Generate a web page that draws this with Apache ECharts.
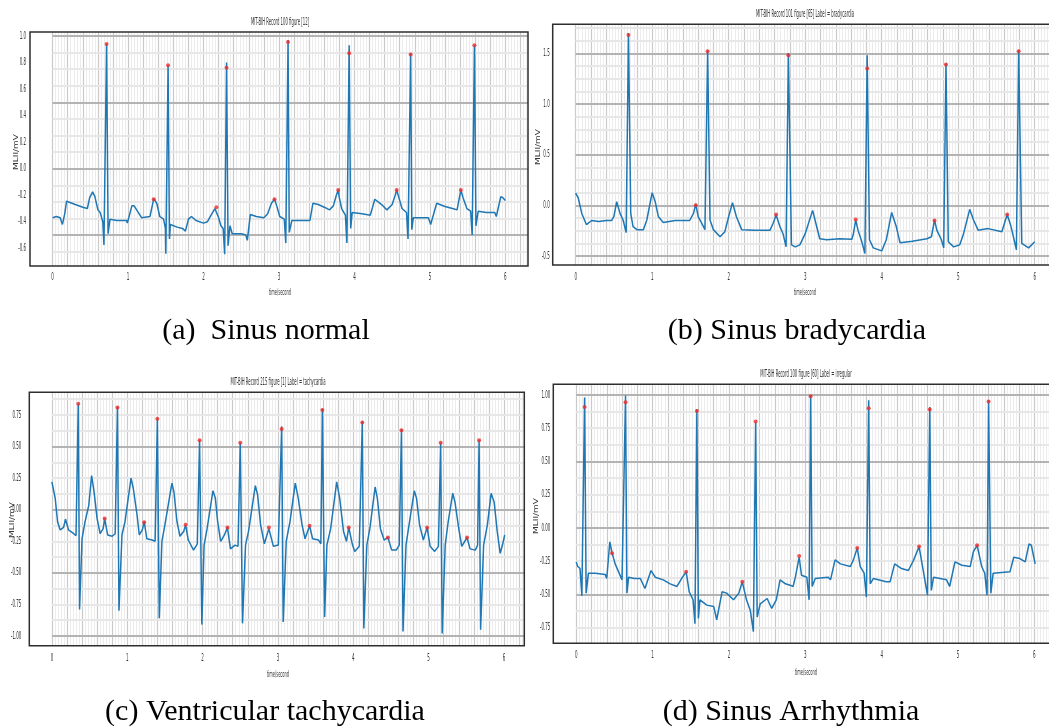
<!DOCTYPE html>
<html>
<head>
<meta charset="utf-8">
<script src="https://cdn.jsdelivr.net/npm/echarts@6/dist/echarts.min.js"></script>
<style>
  html, body { margin: 0; padding: 0; background: #fff; }
  #chart { width: 1049px; height: 728px; }
</style>
</head>
<body>
<div id="chart"></div>
<script>
// ---- data (time in s, amplitude in mV) ----
var xTicks = [0, 1, 2, 3, 4, 5, 6];

// (a) Sinus normal, record 100
var yTicksA = [-0.6, -0.4, -0.2, 0, 0.2, 0.4, 0.6, 0.8, 1.0];
var ecgA = [[0,-0.37],[0.05,-0.36],[0.1,-0.37],[0.13,-0.42],[0.16,-0.34],[0.185,-0.245],[0.2,-0.23],[0.3,-0.27],[0.4,-0.29],[0.46,-0.30],[0.49,-0.22],[0.53,-0.175],[0.56,-0.21],[0.6,-0.31],[0.63,-0.33],[0.665,-0.40],[0.68,-0.575],[0.715,0.94],[0.735,-0.49],[0.76,-0.38],[0.85,-0.39],[0.98,-0.39],[0.99,-0.41],[1.05,-0.28],[1.08,-0.28],[1.18,-0.37],[1.29,-0.36],[1.32,-0.28],[1.34,-0.225],[1.38,-0.26],[1.42,-0.36],[1.47,-0.38],[1.495,-0.45],[1.50,-0.64],[1.53,0.78],[1.548,-0.53],[1.56,-0.42],[1.65,-0.44],[1.72,-0.45],[1.76,-0.47],[1.8,-0.38],[1.84,-0.36],[1.9,-0.39],[2.0,-0.41],[2.05,-0.40],[2.1,-0.35],[2.15,-0.30],[2.17,-0.29],[2.2,-0.37],[2.23,-0.43],[2.26,-0.45],[2.28,-0.645],[2.305,0.80],[2.325,-0.58],[2.35,-0.43],[2.38,-0.49],[2.5,-0.49],[2.56,-0.50],[2.58,-0.54],[2.62,-0.345],[2.7,-0.36],[2.8,-0.37],[2.85,-0.34],[2.9,-0.26],[2.94,-0.23],[2.97,-0.28],[3.01,-0.36],[3.07,-0.38],[3.09,-0.56],[3.12,0.97],[3.136,-0.48],[3.17,-0.39],[3.3,-0.39],[3.41,-0.39],[3.45,-0.26],[3.52,-0.27],[3.6,-0.29],[3.67,-0.31],[3.72,-0.28],[3.76,-0.20],[3.785,-0.16],[3.8,-0.22],[3.83,-0.30],[3.88,-0.35],[3.90,-0.56],[3.93,0.93],[3.95,-0.45],[3.97,-0.33],[4.1,-0.34],[4.21,-0.35],[4.23,-0.36],[4.27,-0.23],[4.36,-0.27],[4.43,-0.31],[4.5,-0.27],[4.54,-0.20],[4.56,-0.16],[4.59,-0.22],[4.63,-0.30],[4.69,-0.33],[4.71,-0.53],[4.745,0.87],[4.76,-0.46],[4.78,-0.37],[4.9,-0.37],[4.98,-0.37],[5.01,-0.42],[5.09,-0.26],[5.2,-0.285],[5.3,-0.30],[5.36,-0.31],[5.39,-0.22],[5.41,-0.16],[5.44,-0.22],[5.49,-0.30],[5.54,-0.32],[5.56,-0.50],[5.59,0.93],[5.61,-0.43],[5.64,-0.32],[5.75,-0.33],[5.86,-0.33],[5.88,-0.36],[5.94,-0.21],[5.97,-0.22],[6.0,-0.24]];
var rPeaksA = [[0.715,0.94],[1.53,0.78],[2.305,0.76],[3.12,0.955],[3.93,0.87],[4.745,0.86],[5.59,0.93]];
var pPeaksA = [[1.34,-0.23],[2.17,-0.29],[2.94,-0.23],[3.785,-0.16],[4.56,-0.16],[5.41,-0.16]];

// (b) Sinus bradycardia, record 101
var yTicksB = [-0.5, 0, 0.5, 1.0, 1.5];
var ecgB = [[0,0.12],[0.035,0.07],[0.08,-0.08],[0.14,-0.19],[0.21,-0.15],[0.3,-0.16],[0.4,-0.15],[0.47,-0.15],[0.5,-0.11],[0.536,0.035],[0.58,-0.08],[0.62,-0.145],[0.66,-0.27],[0.69,1.70],[0.72,-0.08],[0.75,-0.21],[0.8,-0.24],[0.885,-0.24],[0.93,-0.145],[1.0,0.125],[1.04,0.035],[1.08,-0.11],[1.145,-0.17],[1.3,-0.15],[1.49,-0.15],[1.54,-0.08],[1.57,0.013],[1.60,-0.11],[1.65,-0.18],[1.69,-0.24],[1.725,1.53],[1.756,-0.145],[1.80,-0.24],[1.887,-0.31],[1.95,-0.26],[2.0,-0.11],[2.05,0.026],[2.10,-0.11],[2.17,-0.24],[2.35,-0.245],[2.54,-0.245],[2.58,-0.18],[2.62,-0.095],[2.67,-0.21],[2.71,-0.28],[2.75,-0.41],[2.78,1.50],[2.82,-0.39],[2.87,-0.41],[2.93,-0.39],[3.0,-0.28],[3.097,-0.05],[3.14,-0.18],[3.19,-0.33],[3.28,-0.34],[3.45,-0.33],[3.61,-0.335],[3.63,-0.28],[3.66,-0.145],[3.69,-0.245],[3.74,-0.36],[3.78,-0.475],[3.81,1.48],[3.84,-0.34],[3.89,-0.42],[4.0,-0.45],[4.06,-0.34],[4.13,-0.07],[4.19,-0.21],[4.24,-0.37],[4.4,-0.355],[4.59,-0.33],[4.65,-0.31],[4.69,-0.145],[4.72,-0.245],[4.78,-0.34],[4.81,-0.42],[4.84,1.40],[4.87,-0.36],[4.94,-0.41],[5.02,-0.39],[5.07,-0.28],[5.15,-0.04],[5.20,-0.145],[5.26,-0.245],[5.39,-0.23],[5.57,-0.26],[5.64,-0.09],[5.69,-0.21],[5.73,-0.34],[5.76,-0.44],[5.79,1.53],[5.83,-0.375],[5.92,-0.42],[6.0,-0.36]];
var rPeaksB = [[0.69,1.68],[1.725,1.52],[2.78,1.48],[3.81,1.35],[4.84,1.39],[5.79,1.52]];
var pPeaksB = [[1.57,0.0],[2.62,-0.09],[3.66,-0.14],[4.69,-0.15],[5.64,-0.09]];

// (c) Ventricular tachycardia, record 215
var yTicksC = [-1.0, -0.75, -0.5, -0.25, 0, 0.25, 0.5, 0.75];
var ecgC = [[0,0.22],[0.02,0.22],[0.044,0.09],[0.075,-0.095],[0.11,-0.16],[0.155,-0.14],[0.18,-0.074],[0.22,-0.16],[0.29,-0.19],[0.32,-0.205],[0.35,0.84],[0.367,-0.79],[0.40,-0.23],[0.44,-0.095],[0.49,0.037],[0.527,0.27],[0.56,0.14],[0.60,-0.07],[0.64,-0.19],[0.68,-0.15],[0.70,-0.07],[0.74,-0.20],[0.80,-0.21],[0.84,-0.19],[0.87,0.815],[0.89,-0.80],[0.93,-0.20],[0.97,-0.095],[1.05,0.25],[1.08,0.17],[1.13,-0.04],[1.16,-0.20],[1.20,-0.16],[1.225,-0.095],[1.26,-0.23],[1.33,-0.24],[1.37,-0.25],[1.40,0.72],[1.425,-0.86],[1.46,-0.25],[1.50,-0.12],[1.593,0.21],[1.62,0.14],[1.66,-0.095],[1.70,-0.21],[1.75,-0.17],[1.775,-0.12],[1.81,-0.24],[1.88,-0.32],[1.93,-0.27],[1.96,0.55],[1.99,-0.91],[2.02,-0.28],[2.06,-0.15],[2.137,0.15],[2.17,0.09],[2.20,-0.095],[2.24,-0.25],[2.29,-0.20],[2.33,-0.14],[2.37,-0.31],[2.43,-0.28],[2.47,-0.29],[2.50,0.53],[2.53,-0.90],[2.57,-0.28],[2.61,-0.17],[2.70,0.19],[2.73,0.12],[2.77,-0.12],[2.82,-0.27],[2.88,-0.15],[2.94,-0.29],[3.005,-0.28],[3.05,0.66],[3.07,-0.89],[3.11,-0.25],[3.16,-0.095],[3.23,0.21],[3.27,0.09],[3.32,-0.12],[3.36,-0.23],[3.42,-0.127],[3.46,-0.23],[3.54,-0.24],[3.57,-0.27],[3.59,0.80],[3.62,-0.85],[3.65,-0.28],[3.70,-0.15],[3.78,0.22],[3.82,0.09],[3.87,-0.17],[3.91,-0.25],[3.94,-0.14],[3.99,-0.28],[4.02,-0.33],[4.08,-0.29],[4.12,0.70],[4.14,-0.94],[4.18,-0.28],[4.22,-0.15],[4.29,0.18],[4.32,0.09],[4.36,-0.15],[4.41,-0.24],[4.46,-0.22],[4.51,-0.32],[4.57,-0.32],[4.61,-0.28],[4.64,0.64],[4.66,-0.965],[4.70,-0.28],[4.74,-0.12],[4.81,0.15],[4.84,0.09],[4.88,-0.12],[4.93,-0.24],[4.98,-0.14],[5.02,-0.29],[5.08,-0.33],[5.13,-0.29],[5.16,0.53],[5.18,-0.98],[5.22,-0.28],[5.26,-0.095],[5.32,0.13],[5.35,0.06],[5.40,-0.15],[5.44,-0.29],[5.51,-0.22],[5.55,-0.31],[5.62,-0.32],[5.65,-0.28],[5.67,0.55],[5.69,-0.95],[5.73,-0.28],[5.78,-0.12],[5.83,0.13],[5.87,0.06],[5.91,-0.17],[5.95,-0.345],[5.98,-0.28],[6.01,-0.20]];
var rPeaksC = [[0.35,0.84],[0.87,0.81],[1.40,0.72],[1.96,0.55],[2.50,0.53],[3.05,0.64],[3.59,0.79],[4.12,0.69],[4.64,0.63],[5.16,0.53],[5.67,0.55]];
var pPeaksC = [[0.70,-0.07],[1.225,-0.10],[1.775,-0.12],[2.33,-0.14],[2.88,-0.14],[3.42,-0.127],[3.94,-0.14],[4.46,-0.22],[4.98,-0.14],[5.51,-0.22]];

// (d) Sinus arrhythmia, record 100
var yTicksD = [-0.75, -0.5, -0.25, 0, 0.25, 0.5, 0.75, 1.0];
var ecgD = [[0,-0.255],[0.02,-0.29],[0.05,-0.305],[0.074,-0.51],[0.11,0.98],[0.13,-0.49],[0.16,-0.34],[0.25,-0.34],[0.38,-0.35],[0.40,-0.38],[0.44,-0.105],[0.47,-0.19],[0.51,-0.27],[0.555,-0.33],[0.60,-0.39],[0.62,-0.40],[0.646,0.995],[0.664,-0.49],[0.686,-0.37],[0.76,-0.38],[0.84,-0.38],[0.90,-0.455],[0.98,-0.32],[1.035,-0.37],[1.14,-0.39],[1.23,-0.42],[1.32,-0.44],[1.38,-0.38],[1.44,-0.33],[1.48,-0.48],[1.53,-0.54],[1.555,-0.72],[1.58,0.895],[1.60,-0.68],[1.62,-0.54],[1.71,-0.58],[1.80,-0.59],[1.84,-0.69],[1.91,-0.48],[1.97,-0.49],[2.06,-0.54],[2.13,-0.49],[2.175,-0.405],[2.23,-0.54],[2.28,-0.62],[2.32,-0.78],[2.35,0.795],[2.37,-0.67],[2.41,-0.57],[2.50,-0.53],[2.56,-0.605],[2.62,-0.54],[2.67,-0.39],[2.74,-0.42],[2.80,-0.43],[2.84,-0.44],[2.87,-0.37],[2.92,-0.22],[2.95,-0.355],[3.02,-0.37],[3.05,-0.54],[3.07,1.0],[3.09,-0.44],[3.13,-0.38],[3.30,-0.37],[3.33,-0.39],[3.39,-0.24],[3.46,-0.27],[3.59,-0.29],[3.63,-0.24],[3.68,-0.15],[3.72,-0.29],[3.77,-0.34],[3.80,-0.52],[3.83,0.96],[3.85,-0.42],[3.89,-0.38],[4.06,-0.405],[4.11,-0.405],[4.17,-0.27],[4.26,-0.305],[4.35,-0.32],[4.42,-0.24],[4.49,-0.14],[4.54,-0.305],[4.60,-0.505],[4.63,0.91],[4.65,-0.47],[4.68,-0.37],[4.85,-0.39],[4.89,-0.44],[4.96,-0.255],[5.05,-0.28],[5.16,-0.29],[5.20,-0.18],[5.25,-0.13],[5.31,-0.29],[5.35,-0.34],[5.38,-0.505],[5.40,0.96],[5.43,-0.49],[5.46,-0.34],[5.68,-0.33],[5.73,-0.22],[5.81,-0.23],[5.88,-0.255],[5.93,-0.12],[5.96,-0.13],[6.01,-0.27]];
var rPeaksD = [[0.11,0.91],[0.646,0.945],[1.58,0.88],[2.35,0.80],[3.07,0.99],[3.83,0.90],[4.63,0.89],[5.40,0.95]];
var pPeaksD = [[0.47,-0.19],[1.44,-0.33],[2.175,-0.405],[2.92,-0.21],[3.68,-0.15],[4.49,-0.14],[5.25,-0.13]];

// ---- layout of the four panels ----
var panels = [
  { ecg: ecgA, r: rPeaksA, p: pPeaksA, yTicks: yTicksA, dec: 1,
    box: { left: 30, top: 32, width: 498, height: 234 }, xMax: 6.3, yMin: -0.733, yMax: 1.03,
    yMargin: 4, xMargin: 11,
    title: 'MIT-BIH Record 100 figure [12]', titlePos: [280, 22],
    xName: [280, 293], yName: [16, 152],
    caption: '(a)  Sinus normal', capPos: [266, 331] },
  { ecg: ecgB, r: rPeaksB, p: pPeaksB, yTicks: yTicksB, dec: 1,
    box: { left: 552.7, top: 24.3, width: 505, height: 240.7 }, xMax: 6.3, yMin: -0.589, yMax: 1.786,
    yMargin: 3, xMargin: 12,
    title: 'MIT-BIH Record 101 figure [65] Label = bradycardia', titlePos: [805, 14],
    xName: [805, 293], yName: [538, 147],
    caption: '(b) Sinus bradycardia', capPos: [797, 331] },
  { ecg: ecgC, r: rPeaksC, p: pPeaksC, yTicks: yTicksC, dec: 2,
    box: { left: 29.3, top: 392.3, width: 495, height: 253.4 }, xMax: 6.27, yMin: -1.077, yMax: 0.93,
    yMargin: 8, xMargin: 13,
    title: 'MIT-BIH Record 215 figure [1] Label = tachycardia', titlePos: [278, 382],
    xName: [278, 675], yName: [12, 520],
    caption: '(c) Ventricular tachycardia', capPos: [265, 712] },
  { ecg: ecgD, r: rPeaksD, p: pPeaksD, yTicks: yTicksD, dec: 2,
    box: { left: 553.3, top: 384.3, width: 504, height: 259 }, xMax: 6.3, yMin: -0.867, yMax: 1.08,
    yMargin: 3, xMargin: 12,
    title: 'MIT-BIH Record 100 figure [60] Label = irregular', titlePos: [806, 374],
    xName: [806, 673], yName: [536, 516],
    caption: '(d) Sinus Arrhythmia', capPos: [791, 712] }
];

// the source figure was squeezed sideways, so small texts get a narrow scaleX
function smallText(x, y, s, size, sx, align) {
  return { type: 'text', x: x, y: y, scaleX: sx, silent: true,
    style: { text: s, font: size + 'px "DejaVu Sans"', fill: '#333', align: align || 'center', verticalAlign: 'middle' } };
}

// ECG paper style grid: 0.2 s / 0.04 s vertical, 0.5 / 0.125 mV horizontal
function paperLines(pn) {
  var out = [];
  for (var i = 0; i * 0.04 <= pn.xMax - 0.01; i++) {
    var major = i % 5 === 0;
    out.push({ xAxis: +(i * 0.04).toFixed(2),
      lineStyle: { color: major ? '#cacaca' : '#ececec', width: major ? 1.2 : 1, type: 'solid' } });
  }
  for (var k = Math.ceil(pn.yMin / 0.125); k * 0.125 <= pn.yMax; k++) {
    var v = k * 0.125, big = k % 4 === 0;
    out.push([
      { coord: [0, v], lineStyle: { color: big ? '#b3b3b3' : '#e7e7e7', width: 2, type: 'solid' } },
      { coord: [pn.xMax, v] }
    ]);
  }
  return out;
}

var grids = [], xAxes = [], yAxes = [], series = [], graphics = [];
panels.forEach(function (pn, i) {
  grids.push({ left: pn.box.left, top: pn.box.top, width: pn.box.width, height: pn.box.height,
    show: true, z: 2, borderColor: '#2e2e2e', borderWidth: 1.5, backgroundColor: 'transparent',
    outerBoundsMode: 'none', containLabel: false });
  xAxes.push({ type: 'value', gridIndex: i, min: -0.3, max: pn.xMax,
    axisLine: { show: false }, axisTick: { show: false }, splitLine: { show: false }, axisLabel: { show: false } });
  yAxes.push({ type: 'value', gridIndex: i, min: pn.yMin, max: pn.yMax,
    axisLine: { show: false }, axisTick: { show: false }, splitLine: { show: false }, axisLabel: { show: false } });

  series.push({ type: 'line', xAxisIndex: i, yAxisIndex: i, data: [], silent: true, z: 1,
    markLine: { silent: true, z: 1, symbol: ['none', 'none'], label: { show: false },
      emphasis: { disabled: true }, animation: false, data: paperLines(pn) } });
  series.push({ type: 'line', xAxisIndex: i, yAxisIndex: i, data: pn.ecg, z: 3,
    showSymbol: false, symbol: 'none', lineStyle: { color: '#1f77b4', width: 1.5 } });
  series.push({ type: 'scatter', xAxisIndex: i, yAxisIndex: i, data: pn.r.concat(pn.p), z: 4,
    symbol: 'circle', symbolSize: 4, itemStyle: { color: '#ee2a2a' } });

  graphics.push(smallText(pn.titlePos[0], pn.titlePos[1], pn.title, 10, 0.38));
  graphics.push(smallText(pn.xName[0], pn.xName[1], 'time/second', 8, 0.45));
  graphics.push({ type: 'text', x: pn.yName[0], y: pn.yName[1], rotation: Math.PI / 2, scaleY: 0.75, silent: true,
    style: { text: 'MLII/mV', font: '9px "DejaVu Sans"', fill: '#333', align: 'center', verticalAlign: 'middle' } });
  graphics.push({ type: 'text', x: pn.capPos[0], y: pn.capPos[1], silent: true,
    style: { text: pn.caption, font: '30px "Liberation Serif"', fill: '#000', align: 'center', verticalAlign: 'middle' } });
});

var chart = echarts.init(document.getElementById('chart'));
chart.setOption({
  animation: false,
  backgroundColor: '#fff',
  grid: grids,
  xAxis: xAxes,
  yAxis: yAxes,
  series: series
});

// tick labels placed through each panel's own axes
panels.forEach(function (pn, i) {
  var finder = { xAxisIndex: i, yAxisIndex: i };
  xTicks.forEach(function (t) {
    var pt = chart.convertToPixel(finder, [t, pn.yMin]);
    graphics.push(smallText(pt[0], pt[1] + pn.xMargin, String(t), 10, 0.4));
  });
  pn.yTicks.forEach(function (v) {
    var pt = chart.convertToPixel(finder, [-0.3, v]);
    graphics.push(smallText(pt[0] - pn.yMargin, pt[1], v.toFixed(pn.dec), 10, 0.4, 'right'));
  });
});
chart.setOption({ graphic: { elements: graphics } });
</script>
</body>
</html>
